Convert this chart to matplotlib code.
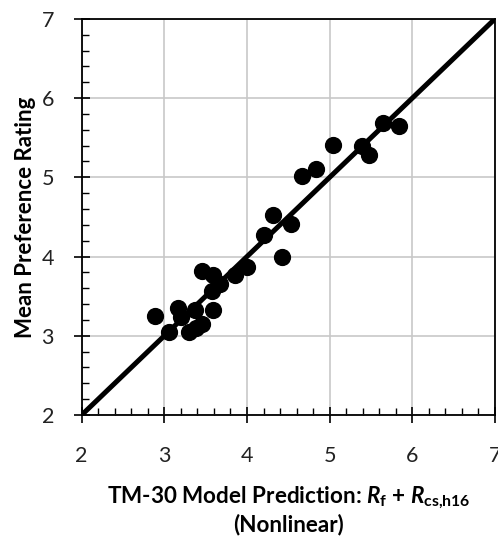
import matplotlib
matplotlib.use("Agg")
import matplotlib.pyplot as plt
from matplotlib.ticker import MultipleLocator

plt.rcParams['font.family'] = ['Lato', 'DejaVu Sans']
plt.rcParams['mathtext.fontset'] = 'custom'
plt.rcParams['mathtext.rm'] = 'Lato:bold'
plt.rcParams['mathtext.it'] = 'Lato:bold:italic'

# predicted (x) vs mean rating (y)
pred = [2.89, 3.06, 3.17, 3.20, 3.30, 3.37, 3.46, 3.38, 3.45, 3.59, 3.67, 3.58,
        3.59, 3.85, 4.00, 4.20, 4.32, 4.53, 4.42, 4.66, 4.84, 5.04, 5.39, 5.48,
        5.64, 5.84]
rating = [3.25, 3.05, 3.35, 3.24, 3.05, 3.32, 3.15, 3.10, 3.82, 3.77, 3.65, 3.57,
          3.32, 3.77, 3.87, 4.27, 4.53, 4.41, 4.00, 5.02, 5.11, 5.41, 5.40, 5.28,
          5.68, 5.65]
fit_x = [2, 7]
fit_y = [2, 7]

fig = plt.figure(figsize=(4.98, 5.38), dpi=100)
ax = fig.add_axes([0.164, 0.2286, 0.830, 0.7364])

ax.plot(fit_x, fit_y, color='black', lw=3.6, zorder=3, solid_capstyle='butt')
ax.scatter(pred, rating, s=130, color='black', zorder=4)

ax.set_xlim(2, 7)
ax.set_ylim(2, 7)
ax.xaxis.set_major_locator(MultipleLocator(1))
ax.yaxis.set_major_locator(MultipleLocator(1))
ax.xaxis.set_minor_locator(MultipleLocator(0.2))
ax.yaxis.set_minor_locator(MultipleLocator(0.2))
ax.grid(True, which='major', color='#c8c8c8', lw=1.2, zorder=0)
ax.tick_params(which='major', direction='inout', length=12, width=1.2,
               labelsize=15.5, labelcolor='#222222')
ax.tick_params(axis='x', which='major', pad=16)
ax.tick_params(axis='y', which='major', pad=14)
ax.tick_params(which='minor', direction='in', length=5, width=1)
for sp in ax.spines.values():
    sp.set_linewidth(1.3)

ax.set_ylabel('Mean Preference Rating', fontsize=16, fontweight='bold', labelpad=4)
ax.set_xlabel('TM-30 Model Prediction: $\\mathit{R}_\\mathrm{f}$ + $\\mathit{R}_\\mathrm{cs{,}h16}$\n(Nonlinear)',
              fontsize=16.2, fontweight='bold', labelpad=14, linespacing=1.15)

fig.savefig('out.png', dpi=100)
